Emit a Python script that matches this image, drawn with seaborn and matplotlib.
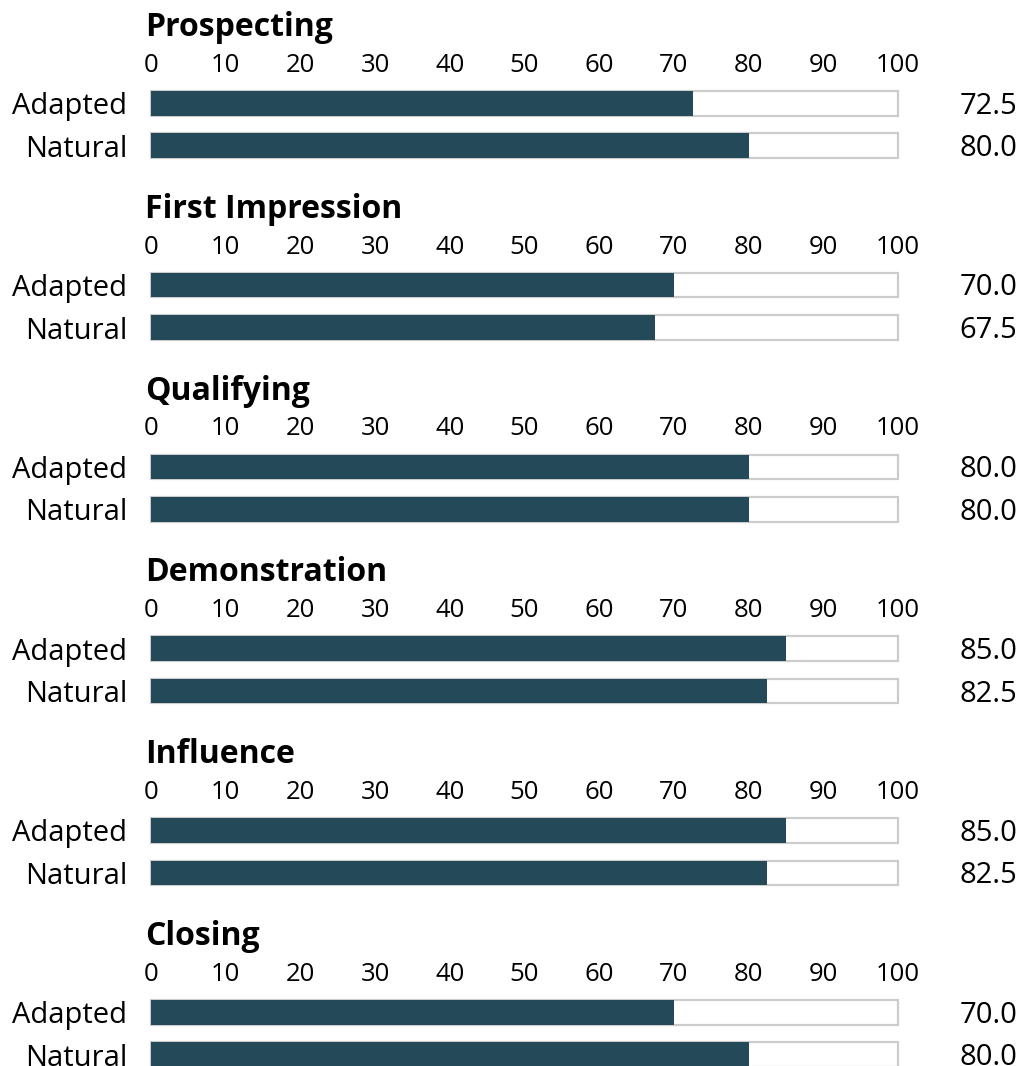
import matplotlib
matplotlib.use("Agg")
import matplotlib.pyplot as plt
import seaborn as sns
import pandas as pd

# Sales-process scores, adapted vs natural style
sections = ["Prospecting", "First Impression", "Qualifying",
            "Demonstration", "Influence", "Closing"]
series_labels = ["Adapted", "Natural"]
adapted = [72.5, 70.0, 80.0, 85.0, 85.0, 70.0]
natural = [80.0, 67.5, 80.0, 82.5, 82.5, 80.0]
scale_max = [100, 100]
tick_values = list(range(0, 101, 10))

BAR_COLOR = "#244a5a"
TRACK_EDGE = "#cccccc"

sns.set_theme(style="white")
plt.rcParams["font.family"] = ["Open Sans", "DejaVu Sans"]

W, H = 1021, 1066
fig = plt.figure(figsize=(W / 100, H / 100), dpi=100)

left_px, right_px = 151, 898
panel_h = 85
for i, sec in enumerate(sections):
    top = 82 + 181.8 * i
    ax = fig.add_axes([left_px / W, 1 - (top + panel_h) / H,
                       (right_px - left_px) / W, panel_h / H])
    df = pd.DataFrame({"series": series_labels,
                       "value": [adapted[i], natural[i]],
                       "full": scale_max})
    # light track showing the full 0-100 scale
    sns.barplot(data=df, x="full", y="series", color="white",
                edgecolor=TRACK_EDGE, linewidth=1.6, width=0.58,
                saturation=1, ax=ax)
    # actual score
    sns.barplot(data=df, x="value", y="series", color=BAR_COLOR,
                linewidth=0, width=0.58, saturation=1, ax=ax)
    for p in ax.patches:
        p.set_clip_on(False)

    ax.set_xlim(0, 100)
    ax.set_ylim(1.5, -0.5)
    ax.set_xlabel("")
    ax.set_ylabel("")
    ax.xaxis.tick_top()
    ax.set_xticks(tick_values)
    ax.tick_params(axis="x", length=0, pad=3, labelsize=18.5, labelcolor="black")
    ax.tick_params(axis="y", length=0, pad=17, labelsize=21, labelcolor="black")
    for s in ax.spines.values():
        s.set_visible(False)

    for j, v in enumerate([adapted[i], natural[i]]):
        ax.annotate(f"{v:.1f}", xy=(1, j), xycoords=("axes fraction", "data"),
                    xytext=(119 * 0.72, -7.5), textcoords="offset points",
                    ha="right", va="baseline", fontsize=21, color="black",
                    annotation_clip=False)

    ax.annotate(sec, xy=(0, 1), xycoords="axes fraction",
                xytext=(-4.5, 46 * 0.72), textcoords="offset points",
                ha="left", va="baseline", fontsize=23, fontweight="bold",
                color="black", annotation_clip=False)

fig.savefig("out.png", dpi=100, facecolor="white")
